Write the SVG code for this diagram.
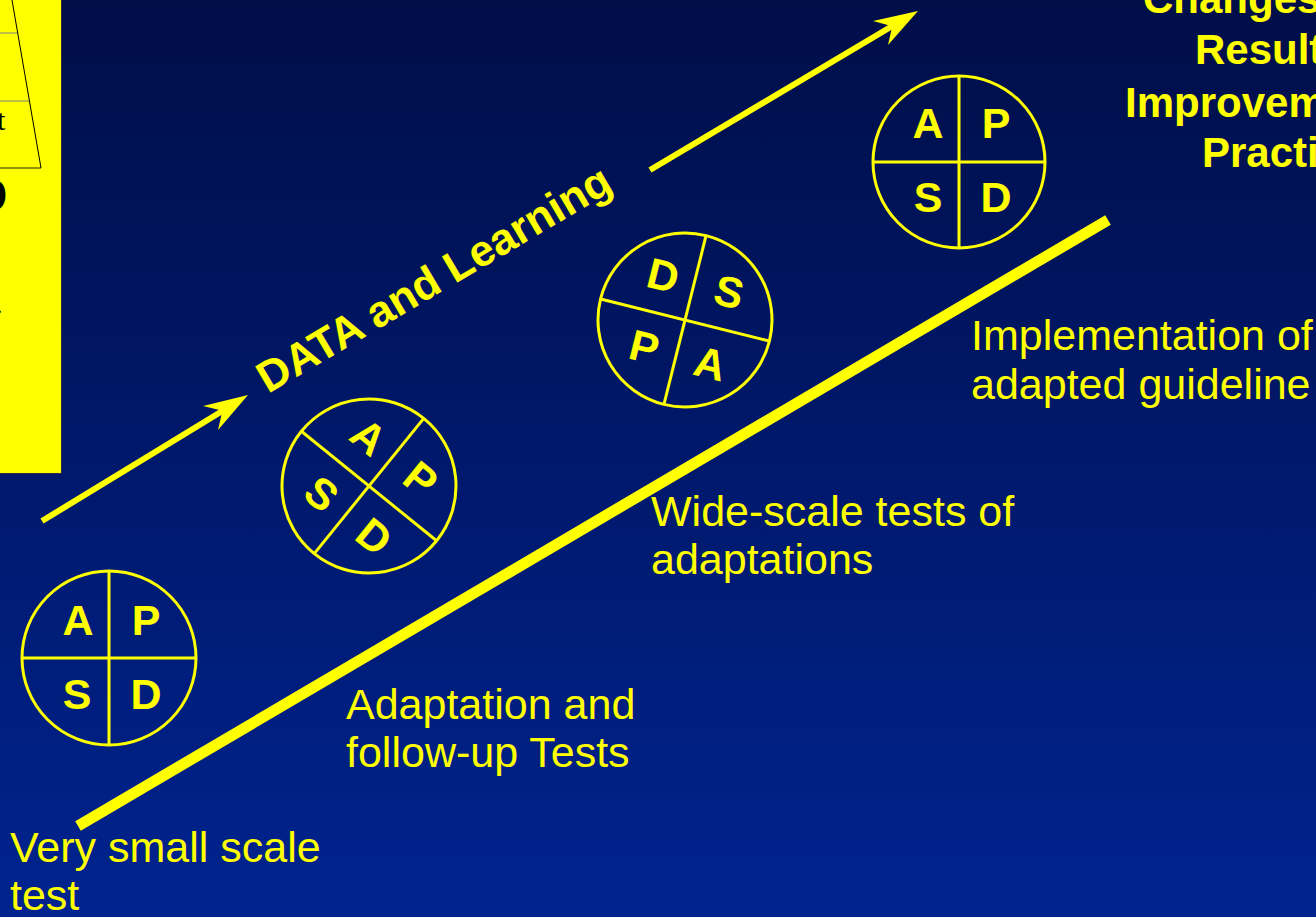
<svg xmlns="http://www.w3.org/2000/svg" width="1316" height="917" viewBox="0 0 1316 917">
  <defs>
    <linearGradient id="bg" x1="0" y1="0" x2="0" y2="1">
      <stop offset="0" stop-color="#000E48"/>
      <stop offset="1" stop-color="#00238F"/>
    </linearGradient>
    <style>
      .ring { fill: none; stroke: #FFFF00; stroke-width: 3; }
      .div { stroke: #FFFF00; stroke-width: 3; }
      .let { font-family: "Liberation Sans", Arial, sans-serif; font-weight: bold; font-size: 43px; fill: #FFFF00; text-anchor: middle; }
      .lbl { font-family: "Liberation Sans", Arial, sans-serif; font-size: 43px; fill: #FFFF00; }
      .bold { font-family: "Liberation Sans", Arial, sans-serif; font-weight: bold; font-size: 42px; fill: #FFFF00; }
      .arrow { stroke: #FFFF00; stroke-width: 6; fill: none; }
      .head { fill: #FFFF00; }
    </style>
  </defs>

  <rect x="0" y="0" width="1316" height="917" fill="url(#bg)"/>

  <!-- partial yellow panel at left -->
  <g id="panel">
    <rect x="0" y="0" width="61" height="473" fill="#FFFF00"/>
    <line x1="61.5" y1="0" x2="61.5" y2="473.5" stroke="#2a2a40" stroke-width="1"/>
    <line x1="0" y1="473.5" x2="62" y2="473.5" stroke="#2a2a40" stroke-width="1"/>
    <line x1="0" y1="33" x2="17.7" y2="33" stroke="#808080" stroke-width="1"/>
    <line x1="0" y1="101" x2="29.5" y2="101" stroke="#808080" stroke-width="1"/>
    <line x1="0" y1="168" x2="41" y2="168" stroke="#6b6b00" stroke-width="1.5"/>
    <line x1="12" y1="0" x2="41" y2="168" stroke="#000" stroke-width="1"/>
    <text x="-3" y="130" font-family="Liberation Serif, serif" font-size="30" fill="#000">t</text>
    <text x="-27" y="211" font-family="Liberation Serif, serif" font-weight="bold" font-size="48" fill="#000">D</text>
    <text x="-3" y="313" font-family="Liberation Serif, serif" font-size="20" fill="#000">.</text>
  </g>

  <g id="connectors">
    <line id="ramp" x1="78" y1="826" x2="1108" y2="220" stroke="#FFFF00" stroke-width="11"/>
    <line class="arrow" x1="42" y1="521" x2="224" y2="410"/>
    <polygon class="head" points="248,395 203,406 222.4,410.7 218,430"/>
    <line class="arrow" x1="650" y1="170" x2="894" y2="25"/>
    <polygon class="head" points="918,11 873,21 892.2,26.3 888,45"/>
  </g>

  <g id="data-learning">
    <text class="bold" transform="translate(268,394) rotate(-30.5)" style="font-size:44px">DATA and Learning</text>
  </g>

  <g id="pdsa1">
    <circle class="ring" cx="109" cy="658" r="87"/>
    <line class="div" x1="22" y1="658" x2="196" y2="658"/>
    <line class="div" x1="109" y1="571" x2="109" y2="745"/>
    <text class="let" x="78" y="635">A</text>
    <text class="let" x="146" y="635">P</text>
    <text class="let" x="77" y="709">S</text>
    <text class="let" x="146" y="709">D</text>
  </g>

  <g id="pdsa2" transform="rotate(39 369 486)">
    <circle class="ring" cx="369" cy="486" r="87"/>
    <line class="div" x1="282" y1="486" x2="456" y2="486"/>
    <line class="div" x1="369" y1="399" x2="369" y2="573"/>
    <text class="let" x="338" y="463">A</text>
    <text class="let" x="405" y="463">P</text>
    <text class="let" x="337" y="537">S</text>
    <text class="let" x="405" y="537">D</text>
  </g>

  <g id="pdsa3" transform="rotate(14 685 320)">
    <circle class="ring" cx="685" cy="320" r="87"/>
    <line class="div" x1="598" y1="320" x2="772" y2="320"/>
    <line class="div" x1="685" y1="233" x2="685" y2="407"/>
    <text class="let" x="653" y="297">D</text>
    <text class="let" x="721" y="297">S</text>
    <text class="let" x="652" y="371">P</text>
    <text class="let" x="720" y="371">A</text>
  </g>

  <g id="pdsa4">
    <circle class="ring" cx="959" cy="162" r="86"/>
    <line class="div" x1="873" y1="162" x2="1045" y2="162"/>
    <line class="div" x1="959" y1="76" x2="959" y2="248"/>
    <text class="let" x="928" y="138">A</text>
    <text class="let" x="996" y="138">P</text>
    <text class="let" x="928" y="212">S</text>
    <text class="let" x="996" y="212">D</text>
  </g>

  <g id="label-small">
    <text class="lbl" x="10" y="862">Very small scale</text>
    <text class="lbl" x="10" y="910">test</text>
  </g>
  <g id="label-adapt">
    <text class="lbl" x="346" y="719">Adaptation and</text>
    <text class="lbl" x="346" y="767">follow-up Tests</text>
  </g>
  <g id="label-wide">
    <text class="lbl" x="651" y="526">Wide-scale tests of</text>
    <text class="lbl" x="651" y="574">adaptations</text>
  </g>
  <g id="label-impl">
    <text class="lbl" x="971" y="350">Implementation of</text>
    <text class="lbl" x="971" y="399">adapted guideline</text>
  </g>
  <g id="label-changes">
    <text class="bold" x="1143" y="13">Changes</text>
    <text class="bold" x="1195" y="64">Result</text>
    <text class="bold" x="1125" y="117">Improvem</text>
    <text class="bold" x="1202" y="167">Practi</text>
  </g>
</svg>
